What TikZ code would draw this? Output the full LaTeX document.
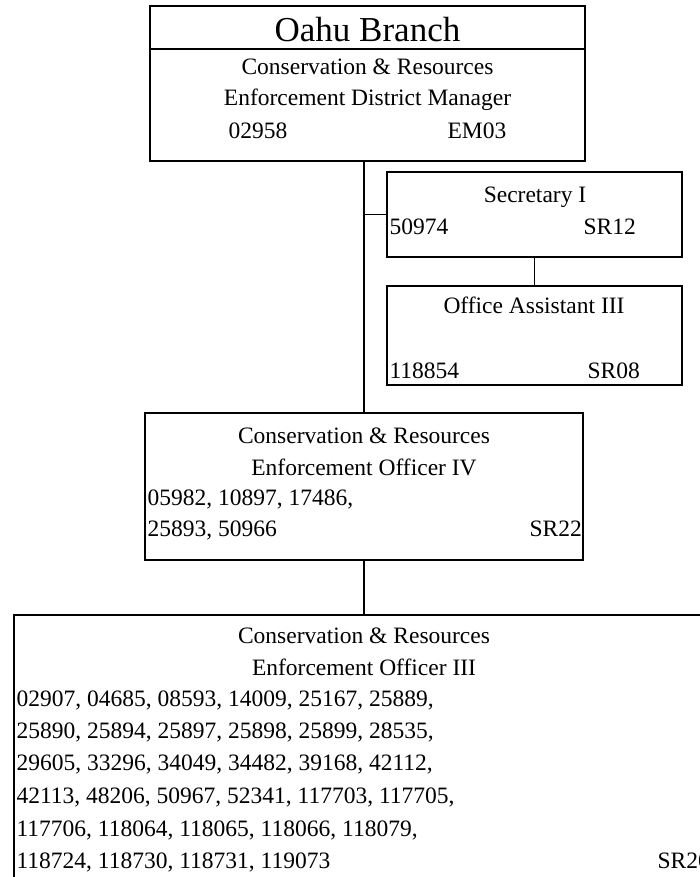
\documentclass[tikz,border=0pt]{standalone}
\usepackage{fontspec}
\setmainfont{Liberation Serif}
\begin{document}
\begin{tikzpicture}[
        x=1pt, y=-1pt,
        line width=1.2pt,
        font=\fontsize{23.5}{28}\selectfont
    ]
    \tikzset{
        mybox/.style = {rectangle, draw=black, inner sep=0pt, fill=white},
        mytext/.style = {inner sep=0pt, anchor=base},
        mytextl/.style = {inner sep=0pt, anchor=base west},
        edgen/.style = {-},
    }
    \useasboundingbox (0,0) rectangle (700,877);
    \clip (0,0) rectangle (700,877);
    %
    \node[mybox, minimum width=435, minimum height=43] at (367.5,27.5) (branch) {};
    \node[mybox, minimum width=435, minimum height=112] at (367.5,105) (mgr) {};
    \node[mybox, minimum width=295, minimum height=85] at (534.5,214.5) (sec) {};
    \node[mybox, minimum width=295, minimum height=99] at (534.5,335.5) (office) {};
    \node[mybox, minimum width=438, minimum height=147] at (364,486.5) (eofour) {};
    \node[mybox, minimum width=700, minimum height=285] at (364,757.5) (eothree) {};
    %
    \draw[edgen] (mgr.south -| eofour.north) -- (eofour.north);
    \draw[edgen] (sec.west) -- (sec.west -| eofour.north);
    \draw[edgen] (sec.south) -- (office.north);
    \draw[edgen] (eofour.south) -- (eothree.north);
    %
    \node[mytext, font=\fontsize{35}{40}\selectfont] at (367.5,42) (branchname) {Oahu Branch};
    \node[mytext] at (367.5,75) (mgrta) {Conservation \& Resources};
    \node[mytext] at (367.5,106) (mgrtb) {Enforcement District Manager};
    \node[mytextl] at (228,139) (mgrno) {02958};
    \node[mytextl] at (447,139) (mgrsr) {EM03};
    %
    \node[mytext] at (535,203) (secta) {Secretary I};
    \node[mytextl] at (389,235) (secno) {50974};
    \node[mytextl] at (583,235) (secsr) {SR12};
    %
    \node[mytext] at (534,313) (officeta) {Office Assistant III};
    \node[mytextl] at (389,378) (officeno) {118854};
    \node[mytextl] at (587,378) (officesr) {SR08};
    %
    \node[mytext] at (364,443) (eofourta) {Conservation \& Resources};
    \node[mytext] at (364,475) (eofourtb) {Enforcement Officer IV};
    \node[mytextl] at (147,505) (eofourna) {05982, 10897, 17486,};
    \node[mytextl] at (147,536) (eofournb) {25893, 50966};
    \node[mytextl] at (529,536) (eofoursr) {SR22};
    %
    \node[mytext] at (364,643) (eothreeta) {Conservation \& Resources};
    \node[mytext] at (364,675) (eothreetb) {Enforcement Officer III};
    \node[mytextl] at (16,706) (eothreena) {02907, 04685, 08593, 14009, 25167, 25889,};
    \node[mytextl] at (16,738) (eothreenb) {25890, 25894, 25897, 25898, 25899, 28535,};
    \node[mytextl] at (16,770) (eothreenc) {29605, 33296, 34049, 34482, 39168, 42112,};
    \node[mytextl] at (16,803) (eothreend) {42113, 48206, 50967, 52341, 117703, 117705,};
    \node[mytextl] at (16,836) (eothreene) {117706, 118064, 118065, 118066, 118079,};
    \node[mytextl] at (16,868) (eothreenf) {118724, 118730, 118731, 119073};
    \node[mytextl] at (657,868) (eothreesr) {SR20};
\end{tikzpicture}
\end{document}
